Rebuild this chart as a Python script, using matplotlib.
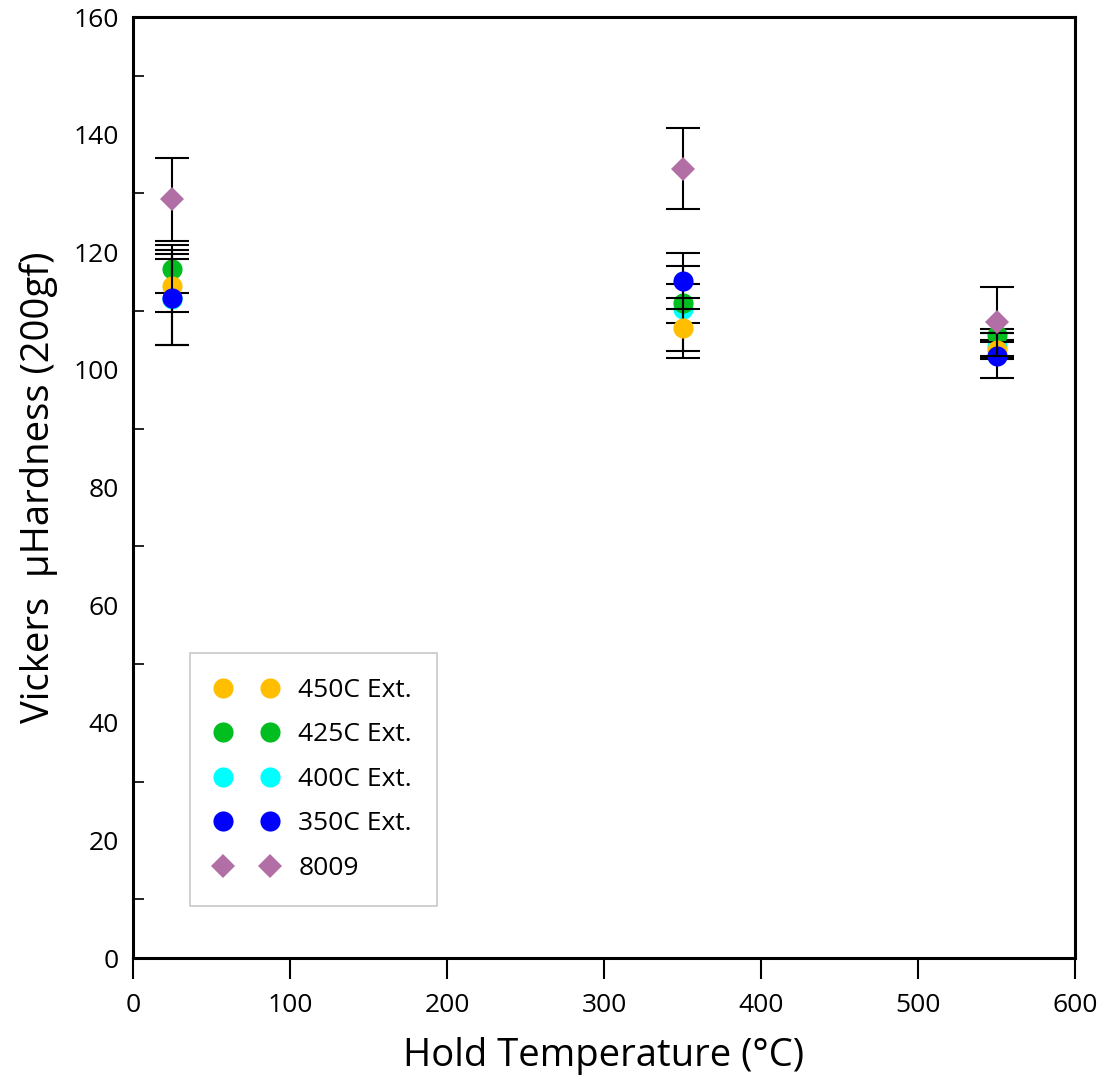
import numpy as np
import matplotlib
matplotlib.use("Agg")
import matplotlib.pyplot as plt
from matplotlib.lines import Line2D
from matplotlib.ticker import MultipleLocator

plt.rcParams['font.family'] = ['Open Sans', 'DejaVu Sans']

# Hold temperatures (deg C)
temps = [25, 350, 550]

# Hardness values and error (half-width) per series
hv_450 = [114.3, 107.1, 103.4]
err_450 = [4.5, 5.05, 1.3]
hv_425 = [117.2, 111.3, 106.0]
err_425 = [4.05, 3.35, 0.9]
hv_400 = [112.0, 110.4, 104.0]
err_400 = [7.7, 7.2, 2.2]
hv_350 = [112.3, 115.1, 102.4]
err_350 = [8.1, 4.7, 3.8]
hv_8009 = [129.0, 134.2, 108.2]
err_8009 = [7.1, 6.9, 5.9]

labels = ['450C Ext.', '425C Ext.', '400C Ext.', '350C Ext.', '8009']
colors = ['#FFBF00', '#00BE20', '#00FFFF', '#0000FF', '#B26FA6']
markers = ['o', 'o', 'o', 'o', 'D']

fig = plt.figure(figsize=(11.01, 10.78), dpi=100)
ax = fig.add_axes([0.1208, 0.1113, 0.8556, 0.8729])

# drawing order as seen in the picture
series = [
    (hv_400, err_400, 2),
    (hv_425, err_425, 1),
    (hv_450, err_450, 0),
    (hv_350, err_350, 3),
    (hv_8009, err_8009, 4),
]
for z, (vals, errs, i) in enumerate(series):
    ms = 14.5 if markers[i] == 'o' else 12
    ax.errorbar(temps, vals, yerr=errs, fmt='none', ecolor='black',
                elinewidth=1.5, capsize=12, capthick=1.5, zorder=2 + 2 * z)
    ax.plot(temps, vals, linestyle='none', marker=markers[i], color=colors[i],
            markersize=ms, markeredgewidth=0, zorder=3 + 2 * z)

ax.set_xlim(0, 600)
ax.set_ylim(0, 160)
ax.xaxis.set_major_locator(MultipleLocator(100))
ax.yaxis.set_major_locator(MultipleLocator(20))
ax.yaxis.set_minor_locator(MultipleLocator(10))
ax.tick_params(axis='x', direction='out', length=15, width=1.5, labelsize=19, pad=10)
ax.tick_params(axis='y', which='major', length=0, labelsize=19, pad=10)
ax.tick_params(axis='y', which='minor', direction='in', length=8, width=1.2)
for s in ax.spines.values():
    s.set_linewidth(2.2)

ax.set_xlabel('Hold Temperature (°C)', fontsize=27.5, labelpad=14)
ax.set_ylabel('Vickers  µHardness (200gf)', fontsize=27.5, labelpad=11)

handles = [Line2D([], [], linestyle='none', marker=markers[i], color=colors[i],
                  markersize=14.5 if markers[i] == 'o' else 12, markeredgewidth=0)
           for i in range(5)]
leg = ax.legend(handles, labels, numpoints=2, loc='lower left',
                bbox_to_anchor=(0.0605, 0.0553), borderaxespad=0, fontsize=19,
                frameon=True, fancybox=False, edgecolor='#BBBBBB',
                handlelength=2.4, labelspacing=0.74, borderpad=0.95,
                handletextpad=0.75)
leg.get_frame().set_linewidth(1.2)

fig.savefig('out.png', dpi=100)
